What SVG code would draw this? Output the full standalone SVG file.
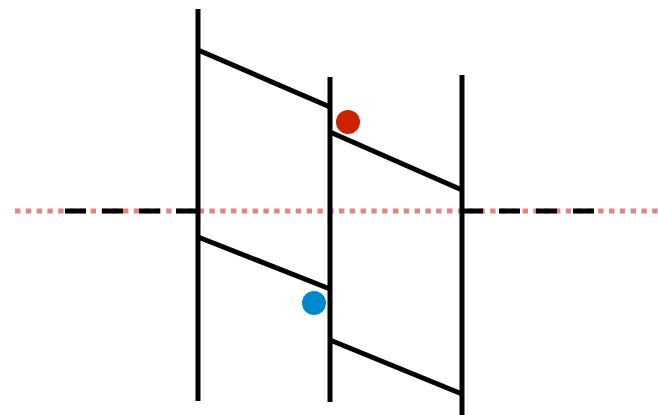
<svg xmlns="http://www.w3.org/2000/svg" width="658" height="415" viewBox="0 0 658 415">
<style>
.ln{stroke:#000;stroke-width:5;fill:none}
.axis{stroke:#000;stroke-width:5;stroke-dasharray:21 16;fill:none}
.dot{stroke:#df8585;stroke-width:5;stroke-dasharray:5.4 5.4;fill:none}
</style>
<rect width="658" height="415" fill="#fff"/>
<g id="connectors">
<line class="dot" x1="15" y1="211" x2="658" y2="211"/>
<line class="axis" x1="65" y1="211" x2="198" y2="211"/>
<line class="axis" x1="462" y1="211" x2="596" y2="211"/>
<line class="ln" x1="198" y1="9" x2="198" y2="401"/>
<line class="ln" x1="330" y1="77" x2="330" y2="402"/>
<line class="ln" x1="462" y1="75" x2="462" y2="415"/>
<line class="ln" x1="198" y1="50" x2="330" y2="107"/>
<line class="ln" x1="330" y1="132" x2="462" y2="190"/>
<line class="ln" x1="198" y1="237" x2="330" y2="289"/>
<line class="ln" x1="330" y1="340" x2="462" y2="394"/>
</g>
<g id="red"><circle cx="348" cy="122" r="12" fill="#cc2200"/></g>
<g id="blue"><circle cx="314" cy="303" r="12" fill="#0088cc"/></g>
</svg>
